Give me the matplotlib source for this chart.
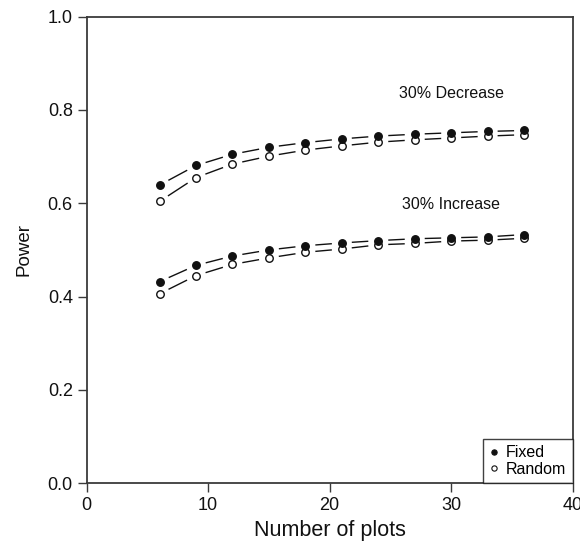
import numpy as np
import matplotlib
matplotlib.use("Agg")
import matplotlib.pyplot as plt
from matplotlib.collections import LineCollection
from matplotlib.lines import Line2D

plt.rcParams['font.family'] = ['Liberation Sans', 'DejaVu Sans']

n_plots = [6, 9, 12, 15, 18, 21, 24, 27, 30, 33, 36]
dec_fixed = [0.639, 0.681, 0.705, 0.720, 0.730, 0.738, 0.744, 0.748, 0.751, 0.754, 0.756]
dec_random = [0.604, 0.655, 0.684, 0.701, 0.714, 0.723, 0.731, 0.736, 0.740, 0.744, 0.747]
inc_fixed = [0.432, 0.467, 0.487, 0.500, 0.509, 0.515, 0.520, 0.524, 0.526, 0.528, 0.533]
inc_random = [0.406, 0.445, 0.469, 0.483, 0.495, 0.502, 0.511, 0.514, 0.519, 0.521, 0.525]
labels = ["30% Decrease", "30% Increase"]
label_pos = [(30, 0.835), (30, 0.598)]
x_ticks = [0, 10, 20, 30, 40]
y_ticks = [0.0, 0.2, 0.4, 0.6, 0.8, 1.0]

fig = plt.figure(figsize=(5.8, 5.43), dpi=100)
ax = fig.add_axes([0.1494, 0.110, 0.838, 0.8594])
ax.set_xlim(0, 40)
ax.set_ylim(0, 1)

spine_col = '#3a3a3a'
for s in ax.spines.values():
    s.set_color(spine_col)
    s.set_linewidth(1.3)

ax.set_xticks(x_ticks)
ax.set_yticks(y_ticks)
ax.set_yticklabels([f"{v:.1f}" for v in y_ticks])
ax.tick_params(direction='out', length=6.5, width=1.0, color=spine_col,
               labelsize=13, pad=3.5, labelcolor='#111')
ax.set_xlabel("Number of plots", fontsize=15.5, color='#111', labelpad=4)
ax.set_ylabel("Power", fontsize=13.5, color='#111', labelpad=11)

fig.canvas.draw()
trans = ax.transData
inv = trans.inverted()
gap = 10.0  # pixels from marker center


def gapped_segments(xs, ys):
    pts = trans.transform(np.column_stack([xs, ys]))
    segs = []
    for a, b in zip(pts[:-1], pts[1:]):
        d = b - a
        L = np.hypot(*d)
        if L <= 2 * gap:
            continue
        u = d / L
        p0 = a + u * gap
        p1 = b - u * gap
        segs.append(inv.transform(np.array([p0, p1])))
    return segs


for fixed, rand in [(dec_fixed, dec_random), (inc_fixed, inc_random)]:
    for ys in (fixed, rand):
        lc = LineCollection(gapped_segments(n_plots, ys), colors='#111', linewidths=1.0)
        ax.add_collection(lc)
    ax.plot(n_plots, rand, linestyle='none', marker='o', markersize=5.4,
            markerfacecolor='white', markeredgecolor='#111', markeredgewidth=1.0, zorder=3)
    ax.plot(n_plots, fixed, linestyle='none', marker='o', markersize=5.4,
            markerfacecolor='#111', markeredgecolor='#111', markeredgewidth=1.0, zorder=4)

for txt, (tx, ty) in zip(labels, label_pos):
    ax.text(tx, ty, txt, ha='center', va='center', fontsize=11.5, color='#111')

handles = [
    Line2D([], [], linestyle='none', marker='o', markersize=3.8,
           markerfacecolor='#111', markeredgecolor='#111', markeredgewidth=0.8),
    Line2D([], [], linestyle='none', marker='o', markersize=3.8,
           markerfacecolor='white', markeredgecolor='#111', markeredgewidth=0.8),
]
leg = ax.legend(handles, ["Fixed", "Random"], loc='lower right', fontsize=11.5,
                frameon=True, fancybox=False, borderaxespad=0, borderpad=0.4,
                handlelength=0.6, handletextpad=0.45, labelspacing=0.1)
leg.get_frame().set_edgecolor('#111')
leg.get_frame().set_linewidth(1.0)

fig.savefig("out.png", dpi=100)
